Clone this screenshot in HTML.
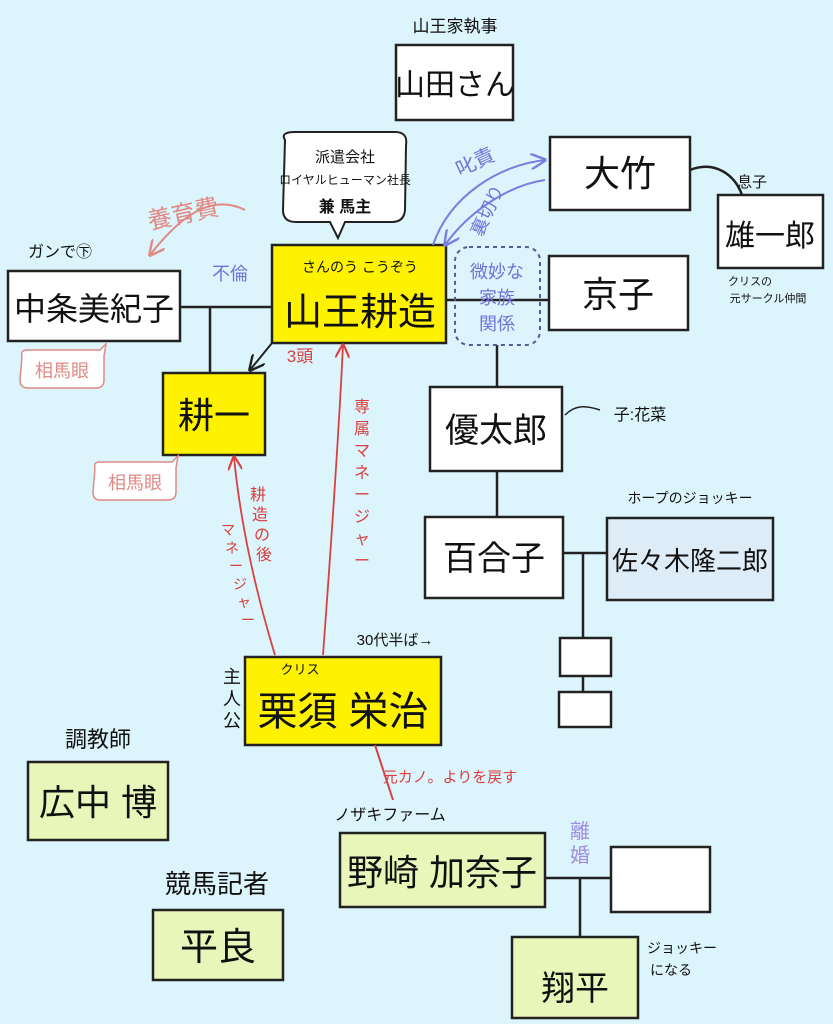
<!DOCTYPE html>
<html><head><meta charset="utf-8"><style>
html,body{margin:0;padding:0;background:#dcf4fb;}
svg{display:block;}
text{font-family:"Liberation Sans","Noto Sans CJK JP",sans-serif;}
</style></head><body>
<svg width="833" height="1024" viewBox="0 0 833 1024" xmlns="http://www.w3.org/2000/svg">
<rect width="833" height="1024" fill="#dcf4fb"/>
<defs>
<marker id="ak" viewBox="0 0 10 10" refX="9" refY="5" markerWidth="8" markerHeight="8" orient="auto"><path d="M0,0 L10,5 L0,10" fill="none" stroke="#222" stroke-width="1.5"/></marker>
<marker id="arr" viewBox="0 0 10 10" refX="9" refY="5" markerWidth="8" markerHeight="8" orient="auto"><path d="M0,0 L10,5 L0,10" fill="none" stroke="#d9403f" stroke-width="1.5"/></marker>
<marker id="arp" viewBox="0 0 10 10" refX="9" refY="5" markerWidth="8" markerHeight="8" orient="auto"><path d="M0,0 L10,5 L0,10" fill="none" stroke="#e08a85" stroke-width="1.5"/></marker>
<marker id="arb" viewBox="0 0 10 10" refX="9" refY="5" markerWidth="8" markerHeight="8" orient="auto"><path d="M0,0 L10,5 L0,10" fill="none" stroke="#7a7ee0" stroke-width="1.5"/></marker>
</defs>
<g stroke="#222" stroke-width="2.5" fill="none">
<line x1="180" y1="307" x2="272" y2="307"/>
<line x1="210" y1="307" x2="210" y2="373"/>
<line x1="446" y1="300" x2="549" y2="300"/>
<line x1="497" y1="345" x2="497" y2="387"/>
<line x1="497" y1="471" x2="497" y2="517"/>
<line x1="563" y1="553" x2="607" y2="553"/>
<line x1="583" y1="553" x2="583" y2="638"/>
<line x1="583" y1="676" x2="583" y2="692"/>
<line x1="545" y1="878" x2="611" y2="878"/>
<line x1="580" y1="878" x2="580" y2="937"/>
<path d="M690,170 C715,160 735,175 742,195"/>
<path d="M565,415 C575,405 585,405 600,410" stroke-width="1.5"/>
</g>
<g stroke="#222" stroke-width="2.5">
<rect x="396" y="45" width="117" height="75" fill="#fff"/>
<rect x="550" y="137" width="140" height="73" fill="#fff"/>
<rect x="718" y="195" width="105" height="73" fill="#fff"/>
<rect x="549" y="256" width="139" height="74" fill="#fff"/>
<rect x="272" y="245" width="174" height="98" fill="#fff200"/>
<rect x="8" y="271" width="172" height="70" fill="#fff"/>
<rect x="163" y="373" width="102" height="82" fill="#fff200"/>
<rect x="430" y="387" width="132" height="84" fill="#fff"/>
<rect x="425" y="517" width="138" height="81" fill="#fff"/>
<rect x="607" y="518" width="166" height="82" fill="#deecf8"/>
<rect x="560" y="638" width="51" height="38" fill="#fff"/>
<rect x="559" y="692" width="52" height="35" fill="#fff"/>
<rect x="245" y="657" width="196" height="88" fill="#fff200"/>
<rect x="28" y="762" width="140" height="78" fill="#e9f6b9"/>
<rect x="340" y="833" width="205" height="74" fill="#e9f6b9"/>
<rect x="611" y="847" width="99" height="65" fill="#fff"/>
<rect x="512" y="937" width="126" height="81" fill="#e9f6b9"/>
<rect x="153" y="910" width="130" height="70" fill="#e9f6b9"/>
</g>
<rect x="455" y="247" width="85" height="98" rx="14" fill="none" stroke="#555a9a" stroke-width="2" stroke-dasharray="4,4"/>
<path d="M285,140 Q280,132 295,132 L395,132 Q408,132 406,145 L405,210 Q404,222 392,222 L345,222 L338,238 L330,222 L296,222 Q283,222 283,210 Z" fill="#fff" stroke="#222" stroke-width="2"/>
<path d="M22,356 Q20,350 28,350 L100,350 L106,344 L104,356 L104,380 Q104,388 96,388 L28,388 Q20,388 20,380 Z" fill="#fff" stroke="#e08a85" stroke-width="1.5"/>
<path d="M95,468 Q93,462 100,462 L172,462 L178,456 L176,468 L176,492 Q176,500 168,500 L100,500 Q93,500 93,492 Z" fill="#fff" stroke="#e08a85" stroke-width="1.5"/>
<path d="M245,210 C215,195 185,210 150,255" fill="none" stroke="#e08a85" stroke-width="2" marker-end="url(#arp)"/>
<path d="M433,245 C450,195 500,165 545,160" fill="none" stroke="#7a7ee0" stroke-width="2" marker-end="url(#arb)"/>
<path d="M545,180 C510,185 470,210 445,245" fill="none" stroke="#7a7ee0" stroke-width="2" marker-end="url(#arb)"/>
<line x1="272" y1="343" x2="250" y2="370" stroke="#222" stroke-width="2" marker-end="url(#ak)"/>
<path d="M323,655 C330,560 338,450 343,345" fill="none" stroke="#d9403f" stroke-width="1.8" marker-end="url(#arr)"/>
<path d="M275,655 C255,590 240,520 234,457" fill="none" stroke="#d9403f" stroke-width="1.8" marker-end="url(#arr)"/>
<line x1="375" y1="745" x2="393" y2="800" stroke="#d9403f" stroke-width="2"/>
<g fill="#111" text-anchor="middle">
<text x="455" y="32" font-size="17">山王家執事</text>
<text x="455" y="95" font-size="30">山田さん</text>
<text x="620" y="186" font-size="36">大竹</text>
<text x="752" y="187" font-size="15">息子</text>
<text x="770" y="246" font-size="30">雄一郎</text>
<text x="750" y="285" font-size="11">クリスの</text>
<text x="768" y="302" font-size="11">元サークル仲間</text>
<text x="618" y="307" font-size="36">京子</text>
<text x="345" y="162" font-size="15">派遣会社</text>
<text x="345" y="184" font-size="12">ロイヤルヒューマン社長</text>
<text x="345" y="212" font-size="16" font-weight="bold">兼 馬主</text>
<text x="360" y="272" font-size="14">さんのう こうぞう</text>
<text x="360" y="325" font-size="38">山王耕造</text>
<text x="94" y="320" font-size="32">中条美紀子</text>
<text x="60" y="257" font-size="16">ガンで㊦</text>
<text x="214" y="428" font-size="36">耕一</text>
<text x="496" y="442" font-size="34">優太郎</text>
<text x="640" y="420" font-size="16">子:花菜</text>
<text x="494" y="570" font-size="34">百合子</text>
<text x="690" y="503" font-size="14">ホープのジョッキー</text>
<text x="690" y="570" font-size="26">佐々木隆二郎</text>
<text x="395" y="645" font-size="15">30代半ば→</text>
<text x="300" y="674" font-size="13">クリス</text>
<text x="343" y="725" font-size="40">栗須 栄治</text>
<text x="98" y="747" font-size="22">調教師</text>
<text x="98" y="815" font-size="36">広中 博</text>
<text x="390" y="820" font-size="16">ノザキファーム</text>
<text x="442" y="885" font-size="36">野崎 加奈子</text>
<text x="575" y="1000" font-size="34">翔平</text>
<text x="217" y="893" font-size="26">競馬記者</text>
<text x="218" y="960" font-size="38">平良</text>
</g>
<g fill="#111" font-size="14">
<text x="647" y="953">ジョッキー</text>
<text x="650" y="975">になる</text>
</g>
<g text-anchor="middle" font-size="18" fill="#111">
<text x="232" y="683">主</text><text x="232" y="705">人</text><text x="232" y="727">公</text>
</g>
<g fill="#6f74d8" font-size="18" text-anchor="middle">
<text x="230" y="280">不倫</text>
<text x="497" y="278">微妙な</text>
<text x="497" y="304">家族</text>
<text x="497" y="330">関係</text>
<text x="478" y="168" font-size="20" transform="rotate(-25 478 168)">叱責</text>
<text x="493" y="213" transform="rotate(-65 493 213)">裏切り</text>
</g>
<g fill="#a08fe0" font-size="20" text-anchor="middle">
<text x="580" y="838">離</text><text x="580" y="862">婚</text>
</g>
<g fill="#e08a85" text-anchor="middle">
<text x="185" y="222" font-size="24" transform="rotate(-12 185 222)">養育費</text>
<text x="62" y="377" font-size="18">相馬眼</text>
<text x="135" y="489" font-size="18">相馬眼</text>
</g>
<g fill="#d9403f" text-anchor="middle" font-size="16">
<text x="300" y="362" font-size="17">3頭</text>
<text x="362" y="412">専</text><text x="362" y="434">属</text><text x="362" y="456">マ</text><text x="362" y="478">ネ</text><text x="362" y="500">ー</text><text x="362" y="522">ジ</text><text x="362" y="544">ャ</text><text x="362" y="566">ー</text>
<text x="258" y="500">耕</text><text x="260" y="520">造</text><text x="262" y="540">の</text><text x="264" y="560">後</text>
<text x="228" y="535" font-size="14">マ</text><text x="232" y="553" font-size="14">ネ</text><text x="236" y="571" font-size="14">ー</text><text x="240" y="589" font-size="14">ジ</text><text x="244" y="607" font-size="14">ャ</text><text x="248" y="625" font-size="14">ー</text>
<text x="450" y="782" font-size="15">元カノ。よりを戻す</text>
</g>
</svg>
</body></html>
